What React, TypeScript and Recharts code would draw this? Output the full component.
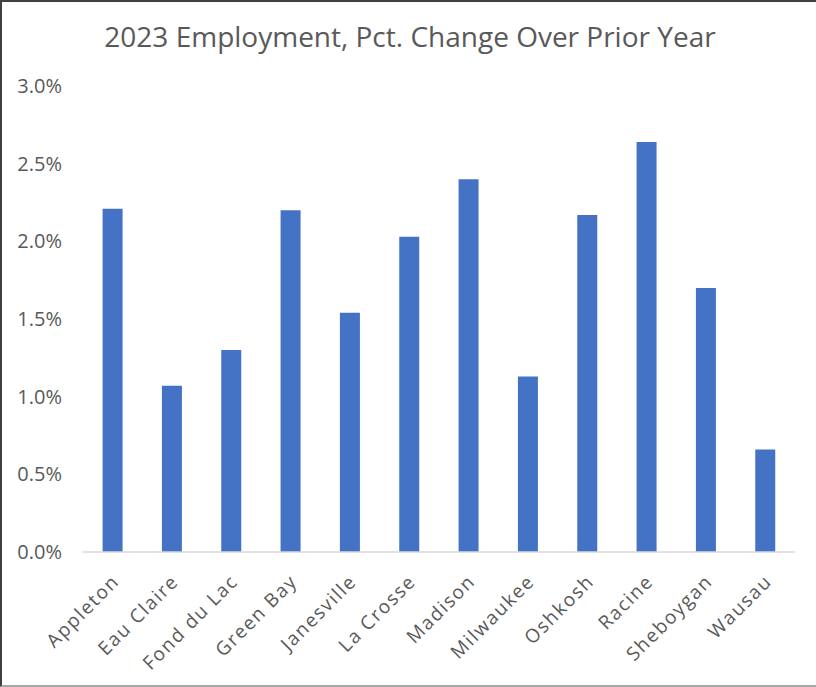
import React from "react";
import { BarChart, Bar, XAxis, YAxis } from "recharts";

const cities = ["Appleton", "Eau Claire", "Fond du Lac", "Green Bay", "Janesville", "La Crosse", "Madison", "Milwaukee", "Oshkosh", "Racine", "Sheboygan", "Wausau"];
const pctChange = [2.21, 1.07, 1.30, 2.20, 1.54, 2.03, 2.40, 1.13, 2.17, 2.64, 1.70, 0.66];
const yTicks = [0, 0.5, 1.0, 1.5, 2.0, 2.5, 3.0];

const data = cities.map((c, i) => ({ city: c, value: pctChange[i] }));

const FONT = "'Open Sans', sans-serif";
const TEXT = "#595959";

const XTick = (props: any) => {
  const { x, y, payload } = props;
  return (
    <text
      transform={`translate(${x + 3},${y + 18}) rotate(-45)`}
      textAnchor="end"
      dy="0.35em"
      fill={TEXT}
      fontSize={19}
      letterSpacing={1.6}
      fontFamily={FONT}
    >
      {payload.value}
    </text>
  );
};

const YTick = (props: any) => {
  const { y, payload } = props;
  return (
    <text x={62} y={y} textAnchor="end" dy="0.35em" fill={TEXT} fontSize={20} fontFamily={FONT}>
      {payload.value.toFixed(1)}%
    </text>
  );
};

export default function App() {
  return (
    <div
      style={{
        position: "absolute",
        left: 0,
        top: 0,
        width: 816,
        height: 687,
        boxSizing: "border-box",
        borderTop: "2px solid #404040",
        borderLeft: "2px solid #404040",
        borderBottom: "2px solid #a6a6a6",
        background: "#fff",
      }}
    >
      <div
        style={{
          position: "absolute",
          top: 15,
          left: 0,
          width: 816,
          textAlign: "center",
          fontFamily: FONT,
          fontSize: 28,
          color: TEXT,
        }}
      >
        2023 Employment, Pct. Change Over Prior Year
      </div>
      <div style={{ position: "absolute", left: -2, top: -2 }}>
        <BarChart
          width={816}
          height={687}
          data={data}
          margin={{ top: 86, right: 21, bottom: 0, left: 0 }}
          barCategoryGap="33%"
        >
          <XAxis
            dataKey="city"
            interval={0}
            tickLine={false}
            axisLine={{ stroke: "#D9D9D9", strokeWidth: 1.5 }}
            tick={<XTick />}
            height={135}
          />
          <YAxis
            width={83}
            domain={[0, 3]}
            ticks={yTicks}
            tickLine={false}
            axisLine={false}
            tick={<YTick />}
          />
          <Bar dataKey="value" fill="#4472C4" isAnimationActive={false} />
        </BarChart>
      </div>
    </div>
  );
}
